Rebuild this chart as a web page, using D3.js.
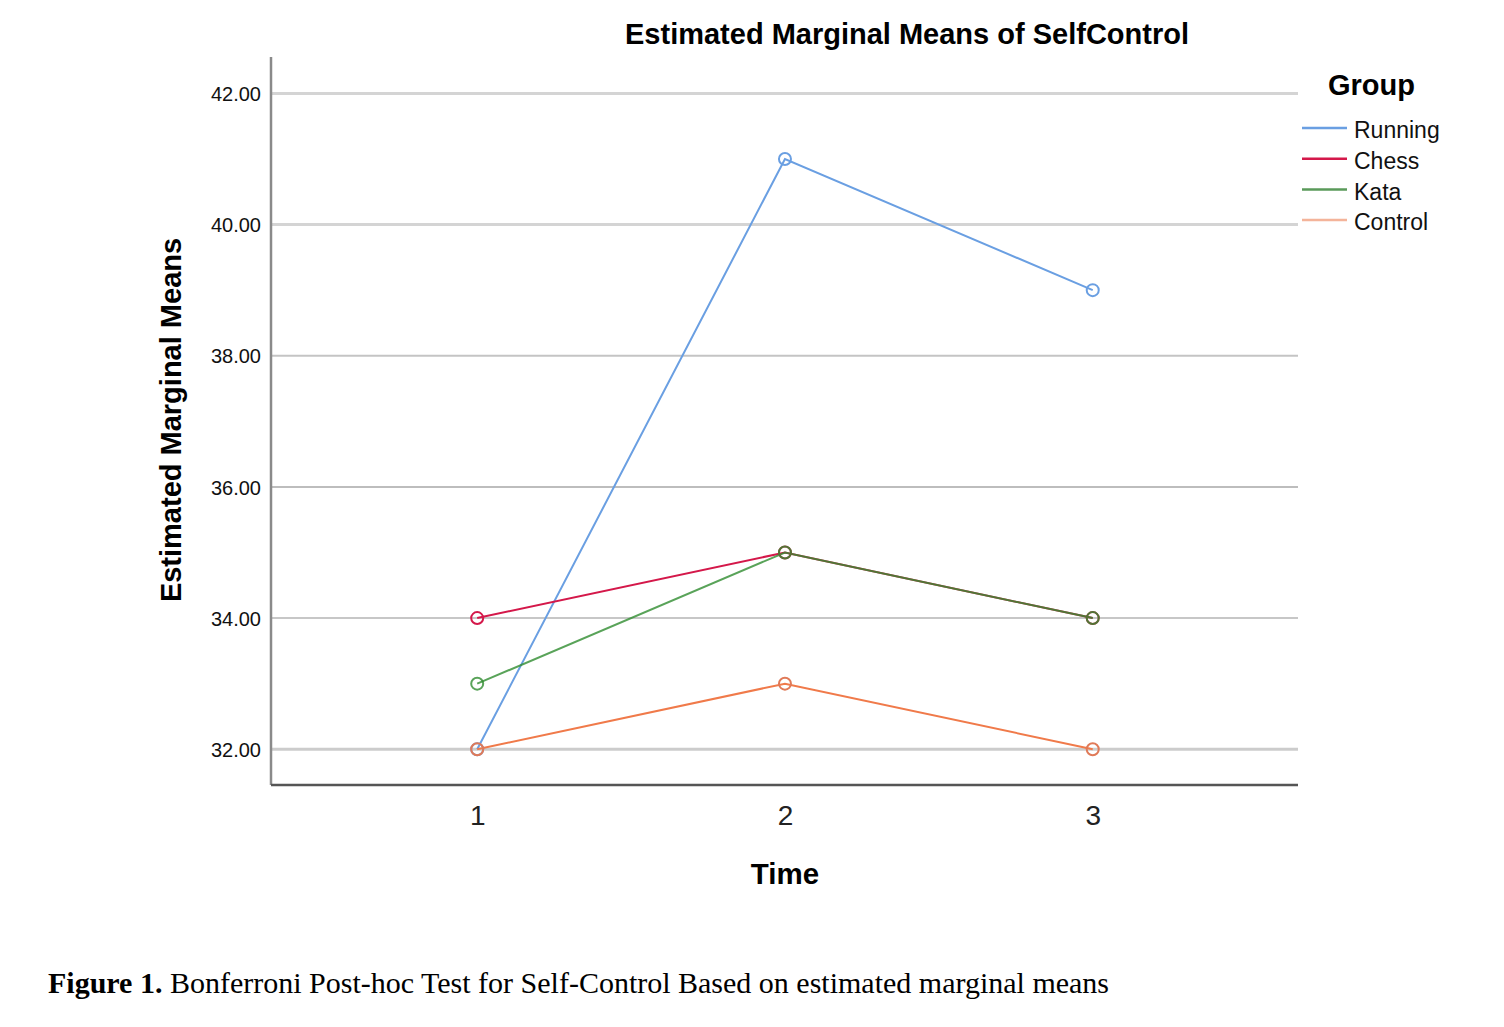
<!DOCTYPE html>
<html><head><meta charset="utf-8">
<script src="https://cdn.jsdelivr.net/npm/d3@7"></script>
<style>body{margin:0;background:#fff}svg{display:block}</style>
</head><body>
<svg id="c" width="1504" height="1027"></svg>
<script>
const times = [1, 2, 3];
const timeLabels = ["1", "2", "3"];
const groups = ["Running", "Chess", "Kata", "Control"];
const running = [32, 41, 39];
const chess = [34, 35, 34];
const kata = [33, 35, 34];
const control = [32, 33, 32];
const yTicks = [32, 34, 36, 38, 40, 42];
const yTickLabels = ["32.00", "34.00", "36.00", "38.00", "40.00", "42.00"];

const seriesValues = [running, chess, kata, control];
const lineColors = ["#6a9fe2", "#d4184a", "#2f8c2f", "#f07a4a"];
const legendColors = ["#6a9fe2", "#d4184a", "#5a9a5a", "#f4b49a"];
const opac = [1, 1, 0.8, 1];

const svg = d3.select("#c");
const L = 271, R = 1298, T = 57, B = 785;
const x = d3.scaleLinear().domain([0.33, 3.667]).range([L, R]);
const y = d3.scaleLinear().domain([31.455, 42.555]).range([B, T]);

// gridlines
const gridStyle = {42:[3,"#d4d4d4"],40:[3,"#d4d4d4"],38:[2,"#c4c4c4"],36:[2,"#bdbdbd"],34:[1.5,"#b4b4b4"],32:[3,"#cccccc"]};
svg.append("g").selectAll("line").data(yTicks).join("line")
  .attr("x1", L).attr("x2", R)
  .attr("y1", d => y(d)).attr("y2", d => y(d))
  .attr("stroke", d => gridStyle[d][1]).attr("stroke-width", d => gridStyle[d][0]);

// y axis
const yAxis = d3.axisLeft(y).tickValues(yTicks).tickSize(0).tickPadding(10)
  .tickFormat((d,i) => yTickLabels[i]);
const ya = svg.append("g").attr("transform", `translate(${L},0)`).call(yAxis);
ya.select(".domain").attr("stroke", "#8a8a8a").attr("stroke-width", 2.5).attr("d", `M0,${T}V${B}`);
ya.selectAll("text").attr("font-family", "Liberation Sans, Arial, sans-serif").attr("font-size", 20).attr("fill", "#111").attr("dy", "0.36em");

// x axis
const xAxis = d3.axisBottom(x).tickValues(times).tickSize(0).tickPadding(20)
  .tickFormat((d,i) => timeLabels[i]);
const xa = svg.append("g").attr("transform", `translate(0,${B})`).call(xAxis);
xa.select(".domain").attr("stroke", "#555").attr("stroke-width", 2.5).attr("d", `M${L},0H${R}`);
xa.selectAll("text").attr("font-family", "Liberation Sans, Arial, sans-serif").attr("font-size", 28).attr("fill", "#222").attr("font-weight", 300);

// lines
const line = d3.line().x((d,i) => x(times[i])).y(d => y(d));
const order = [0, 3, 1, 2];
order.forEach(k => {
  const g = svg.append("g").attr("opacity", opac[k]);
  g.append("path").attr("d", line(seriesValues[k])).attr("fill", "none")
    .attr("stroke", lineColors[k]).attr("stroke-width", 2);
});
order.forEach(k => {
  const g = svg.append("g").attr("opacity", opac[k]);
  g.selectAll("circle").data(seriesValues[k]).join("circle")
    .attr("cx", (d,i) => x(times[i])).attr("cy", d => y(d)).attr("r", 6)
    .attr("fill", "none").attr("stroke", k === 3 ? "#e07a58" : lineColors[k]).attr("stroke-width", 2);
});

// title
svg.append("text").attr("x", 907).attr("y", 44).attr("text-anchor", "middle")
  .attr("font-family", "Liberation Sans, Arial, sans-serif").attr("font-weight", "bold").attr("font-size", 29)
  .text("Estimated Marginal Means of SelfControl");

// y label
svg.append("text").attr("transform", "translate(181,420) rotate(-90)").attr("text-anchor", "middle")
  .attr("font-family", "Liberation Sans, Arial, sans-serif").attr("font-weight", "bold").attr("font-size", 29)
  .text("Estimated Marginal Means");

// x label
svg.append("text").attr("x", 785).attr("y", 884).attr("text-anchor", "middle")
  .attr("font-family", "Liberation Sans, Arial, sans-serif").attr("font-weight", "bold").attr("font-size", 29.5)
  .text("Time");

// legend
svg.append("text").attr("x", 1328).attr("y", 95)
  .attr("font-family", "Liberation Sans, Arial, sans-serif").attr("font-weight", "bold").attr("font-size", 29)
  .text("Group");
const lg = svg.append("g").selectAll("g").data(groups).join("g")
  .attr("transform", (d,i) => `translate(1302,${128 + i*30.7})`);
lg.append("line").attr("x1", 0).attr("x2", 45).attr("y1", 0).attr("y2", 0)
  .attr("stroke", (d,i) => legendColors[i]).attr("stroke-width", 2.5);
lg.append("text").attr("x", 52).attr("y", 2).attr("dy", "0.36em")
  .attr("font-family", "Liberation Sans, Arial, sans-serif").attr("font-size", 23).attr("fill", "#111")
  .text(d => d);

// caption
const cap = svg.append("text").attr("x", 48).attr("y", 993)
  .attr("font-family", "Liberation Serif, Times New Roman, serif").attr("font-size", 30);
cap.append("tspan").attr("font-weight", "bold").text("Figure 1.");
cap.append("tspan").text(" Bonferroni Post-hoc Test for Self-Control Based on estimated marginal means");
</script>
</body></html>
